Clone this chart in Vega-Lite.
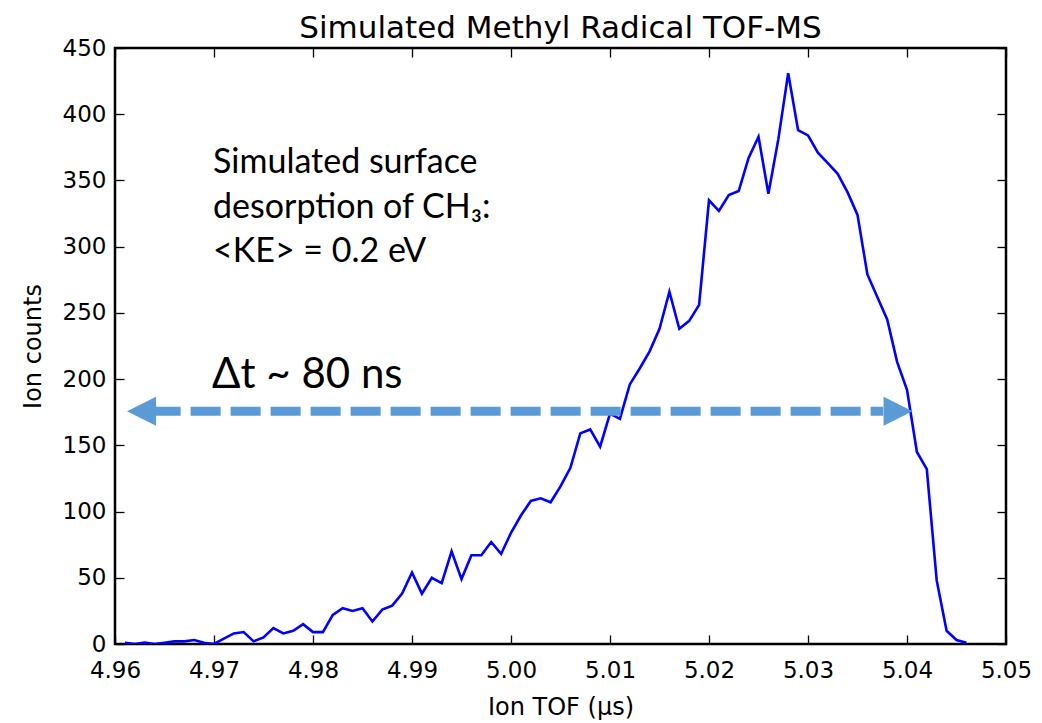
{
  "$schema": "https://vega.github.io/schema/vega-lite/v6.json",
  "width": 891,
  "height": 596,
  "autosize": {"type": "none"},
  "padding": {"left": 115, "top": 48, "right": 36, "bottom": 79},
  "background": "white",
  "title": {"text": "Simulated Methyl Radical TOF-MS", "font": "DejaVu Sans", "fontSize": 31, "fontWeight": "normal", "color": "black", "offset": 10, "dy": 18, "anchor": "middle"},
  "config": {
    "view": {"stroke": "black", "strokeWidth": 2.5},
    "axis": {"domain": false, "grid": false, "labelFont": "DejaVu Sans", "labelFontSize": 23, "labelColor": "black", "titleFont": "DejaVu Sans", "titleFontSize": 24, "titleFontWeight": "normal", "titleColor": "black", "tickColor": "black", "tickWidth": 1.3}
  },
  "datasets": {
    "tof": [
      {"t": 4.961, "counts": 1}, {"t": 4.962, "counts": 0}, {"t": 4.963, "counts": 1}, {"t": 4.964, "counts": 0},
      {"t": 4.965, "counts": 1}, {"t": 4.966, "counts": 2}, {"t": 4.967, "counts": 2}, {"t": 4.968, "counts": 3},
      {"t": 4.969, "counts": 1}, {"t": 4.970, "counts": 0}, {"t": 4.971, "counts": 4}, {"t": 4.972, "counts": 8},
      {"t": 4.973, "counts": 9}, {"t": 4.974, "counts": 2}, {"t": 4.975, "counts": 5}, {"t": 4.976, "counts": 12},
      {"t": 4.977, "counts": 8}, {"t": 4.978, "counts": 10}, {"t": 4.979, "counts": 15}, {"t": 4.980, "counts": 9},
      {"t": 4.981, "counts": 9}, {"t": 4.982, "counts": 22}, {"t": 4.983, "counts": 27}, {"t": 4.984, "counts": 25},
      {"t": 4.985, "counts": 27}, {"t": 4.986, "counts": 17}, {"t": 4.987, "counts": 26}, {"t": 4.988, "counts": 29},
      {"t": 4.989, "counts": 38}, {"t": 4.990, "counts": 54}, {"t": 4.991, "counts": 38}, {"t": 4.992, "counts": 50},
      {"t": 4.993, "counts": 46}, {"t": 4.994, "counts": 70}, {"t": 4.995, "counts": 49}, {"t": 4.996, "counts": 67},
      {"t": 4.997, "counts": 67}, {"t": 4.998, "counts": 77}, {"t": 4.999, "counts": 68}, {"t": 5.000, "counts": 84},
      {"t": 5.001, "counts": 97}, {"t": 5.002, "counts": 108}, {"t": 5.003, "counts": 110}, {"t": 5.004, "counts": 107},
      {"t": 5.005, "counts": 119}, {"t": 5.006, "counts": 133}, {"t": 5.007, "counts": 159}, {"t": 5.008, "counts": 162},
      {"t": 5.009, "counts": 149}, {"t": 5.010, "counts": 174}, {"t": 5.011, "counts": 170}, {"t": 5.012, "counts": 196},
      {"t": 5.013, "counts": 208}, {"t": 5.014, "counts": 221}, {"t": 5.015, "counts": 238}, {"t": 5.016, "counts": 266},
      {"t": 5.017, "counts": 238}, {"t": 5.018, "counts": 244}, {"t": 5.019, "counts": 256}, {"t": 5.020, "counts": 335},
      {"t": 5.021, "counts": 327}, {"t": 5.022, "counts": 339}, {"t": 5.023, "counts": 342}, {"t": 5.024, "counts": 367},
      {"t": 5.025, "counts": 383}, {"t": 5.026, "counts": 340}, {"t": 5.027, "counts": 381}, {"t": 5.028, "counts": 431},
      {"t": 5.029, "counts": 388}, {"t": 5.030, "counts": 384}, {"t": 5.031, "counts": 371}, {"t": 5.032, "counts": 363},
      {"t": 5.033, "counts": 355}, {"t": 5.034, "counts": 341}, {"t": 5.035, "counts": 324}, {"t": 5.036, "counts": 279},
      {"t": 5.037, "counts": 262}, {"t": 5.038, "counts": 245}, {"t": 5.039, "counts": 213}, {"t": 5.040, "counts": 192},
      {"t": 5.041, "counts": 145}, {"t": 5.042, "counts": 132}, {"t": 5.043, "counts": 48}, {"t": 5.044, "counts": 10},
      {"t": 5.045, "counts": 3}, {"t": 5.046, "counts": 1}
    ],
    "shaft": [{"t": 4.9636, "t2": 5.0376, "counts": 175.7}],
    "heads": [
      {"t": 4.96268, "counts": 175.7, "dir": "left"},
      {"t": 5.0391, "counts": 175.7, "dir": "right"}
    ],
    "delta": [{"t": 4.9698, "counts": 193.3, "label": "Δt ~ 80 ns"}],
    "notes": [
      {"t": 4.9699, "counts": 355.6, "label": "Simulated surface"},
      {"t": 4.9699, "counts": 321.9, "label": "desorption of CH₃:"},
      {"t": 4.9699, "counts": 288.4, "label": "<KE> = 0.2 eV"}
    ]
  },
  "resolve": {"axis": {"x": "independent", "y": "independent"}},
  "layer": [
    {
      "data": {"name": "tof"},
      "mark": {"type": "line", "color": "#0000ff", "strokeWidth": 2.6, "clip": true},
      "encoding": {
        "x": {"field": "t", "type": "quantitative", "scale": {"domain": [4.96, 5.05], "nice": false, "zero": false},
          "axis": {"orient": "bottom", "values": [4.96, 4.97, 4.98, 4.99, 5.0, 5.01, 5.02, 5.03, 5.04, 5.05], "format": ".2f", "ticks": false, "labelPadding": 15, "labelFlush": false, "title": "Ion TOF (μs)", "titlePadding": 13}},
        "y": {"field": "counts", "type": "quantitative", "scale": {"domain": [0, 450], "nice": false},
          "axis": {"orient": "left", "values": [0, 50, 100, 150, 200, 250, 300, 350, 400, 450], "format": "d", "ticks": false, "labelPadding": 9, "title": "Ion counts", "titlePadding": 17}}
      }
    },
    {
      "data": {"name": "shaft"},
      "mark": {"type": "rule", "color": "#5b9bd5", "strokeWidth": 9, "strokeDash": [30, 10], "strokeCap": "butt"},
      "encoding": {
        "x": {"field": "t", "type": "quantitative",
          "axis": {"orient": "top", "offset": -596, "values": [4.96, 4.97, 4.98, 4.99, 5.0, 5.01, 5.02, 5.03, 5.04, 5.05], "labels": false, "ticks": true, "tickSize": 9, "title": null}},
        "x2": {"field": "t2"},
        "y": {"field": "counts", "type": "quantitative",
          "axis": {"orient": "right", "offset": -891, "values": [0, 50, 100, 150, 200, 250, 300, 350, 400, 450], "labels": false, "ticks": true, "tickSize": 9, "title": null}}
      }
    },
    {
      "data": {"name": "heads"},
      "mark": {"type": "point", "filled": true, "color": "#5b9bd5", "opacity": 1, "size": 841},
      "encoding": {
        "x": {"field": "t", "type": "quantitative",
          "axis": {"orient": "bottom", "offset": -596, "values": [4.96, 4.97, 4.98, 4.99, 5.0, 5.01, 5.02, 5.03, 5.04, 5.05], "labels": false, "ticks": true, "tickSize": 9, "title": null}},
        "y": {"field": "counts", "type": "quantitative",
          "axis": {"orient": "left", "offset": -891, "values": [0, 50, 100, 150, 200, 250, 300, 350, 400, 450], "labels": false, "ticks": true, "tickSize": 9, "title": null}},
        "shape": {"field": "dir", "type": "nominal", "legend": null,
          "scale": {"domain": ["left", "right"], "range": ["M -1 0 L 1 -1 L 1 1 Z", "M 1 0 L -1 -1 L -1 1 Z"]}}
      }
    },
    {
      "data": {"name": "delta"},
      "mark": {"type": "text", "font": "Lato", "fontSize": 42, "align": "left", "baseline": "alphabetic", "color": "black"},
      "encoding": {
        "x": {"field": "t", "type": "quantitative", "axis": null},
        "y": {"field": "counts", "type": "quantitative", "axis": null},
        "text": {"field": "label"}
      }
    },
    {
      "data": {"name": "notes"},
      "mark": {"type": "text", "font": "Lato", "fontSize": 34, "align": "left", "baseline": "alphabetic", "color": "black"},
      "encoding": {
        "x": {"field": "t", "type": "quantitative", "axis": null},
        "y": {"field": "counts", "type": "quantitative", "axis": null},
        "text": {"field": "label"}
      }
    }
  ]
}
